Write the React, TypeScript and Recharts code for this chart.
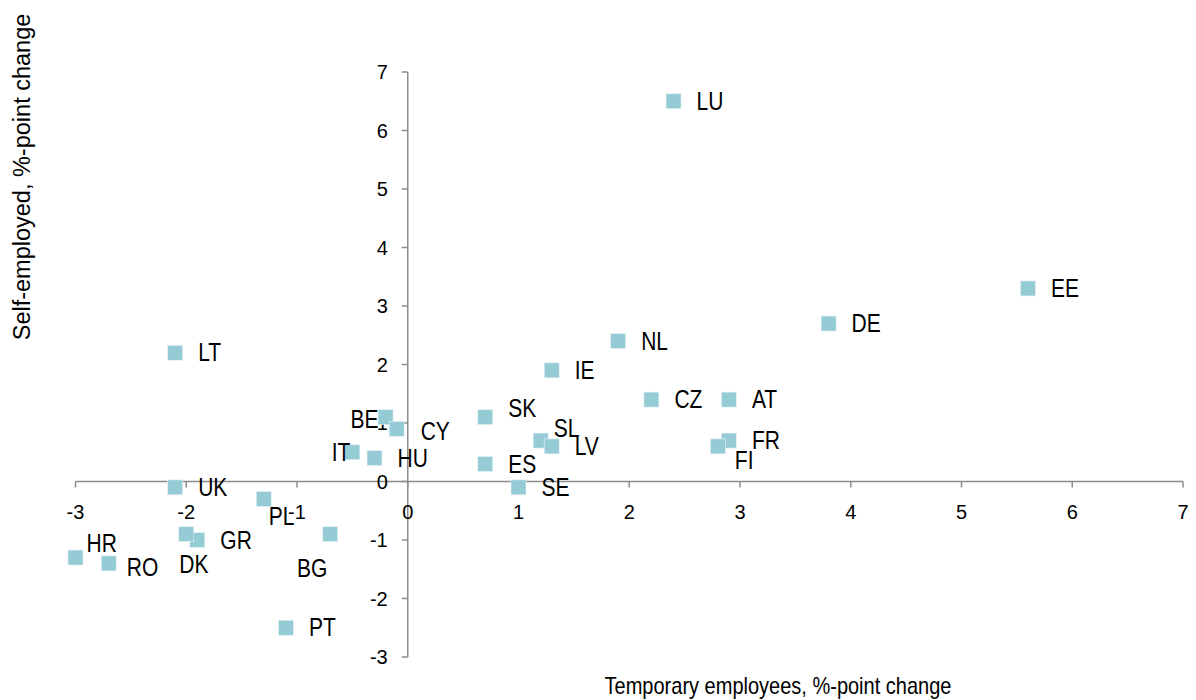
import { ReferenceLine, Scatter, ScatterChart, XAxis, YAxis } from "recharts";

const countries = [
  "LU", "EE", "DE", "NL", "IE", "CZ", "AT", "FR", "FI", "SK", "SL", "LV", "ES", "SE",
  "BE", "CY", "IT", "HU", "LT", "UK", "PL", "BG", "GR", "DK", "HR", "RO", "PT",
];
const temporaryChange = [
  2.4, 5.6, 3.8, 1.9, 1.3, 2.2, 2.9, 2.9, 2.8, 0.7, 1.2, 1.3, 0.7, 1.0,
  -0.2, -0.1, -0.5, -0.3, -2.1, -2.1, -1.3, -0.7, -1.9, -2.0, -3.0, -2.7, -1.1,
];
const selfEmployedChange = [
  6.5, 3.3, 2.7, 2.4, 1.9, 1.4, 1.4, 0.7, 0.6, 1.1, 0.7, 0.6, 0.3, -0.1,
  1.1, 0.9, 0.5, 0.4, 2.2, -0.1, -0.3, -0.9, -1.0, -0.9, -1.3, -1.4, -2.5,
];
const xTicks = [-3, -2, -1, 0, 1, 2, 3, 4, 5, 6, 7];
const yTicks = [-3, -2, -1, 0, 1, 2, 3, 4, 5, 6, 7];

// where each data label sits relative to its marker (default: right of it)
const labelPlacement: Record<string, { dx: number; dy: number; anchor?: string }> = {
  FI: { dx: 17, dy: 14 },
  SK: { dx: 23, dy: -9 },
  SL: { dx: 13, dy: -12 },
  BE: { dx: -7, dy: 2, anchor: "end" },
  CY: { dx: 24, dy: 2 },
  IT: { dx: -2, dy: 0, anchor: "end" },
  PL: { dx: 5, dy: 17 },
  BG: { dx: -18, dy: 34, anchor: "middle" },
  DK: { dx: -7, dy: 30 },
  HR: { dx: 11, dy: -14 },
  RO: { dx: 18, dy: 4 },
};

const points = countries.map((name, i) => ({
  name,
  x: temporaryChange[i],
  y: selfEmployedChange[i],
}));
const xTickPoints = xTicks.map((t) => ({ x: t, y: 0 }));
const yTickPoints = yTicks.map((t) => ({ x: 0, y: t }));

const FONT = "'Liberation Sans', Arial, sans-serif";
const AXIS = "#8c8c8c";
const MARKER = "#95cbd5";

function Marker(props: any) {
  const { cx, cy } = props;
  return <rect x={cx - 7.5} y={cy - 7.5} width={15} height={15} fill={MARKER} stroke="#e8f4f6" strokeWidth={0.6} />;
}

function PointLabel(props: any) {
  const { cx, cy, payload } = props;
  const p = labelPlacement[payload.name] ?? { dx: 23, dy: 0 };
  return (
    <text
      transform={`translate(${cx + p.dx},${cy + p.dy}) scale(1,1.2)`}
      textAnchor={p.anchor ?? "start"}
      dominantBaseline="central"
      fontSize={21}
      fontFamily={FONT}
      fill="#000"
    >
      {payload.name}
    </text>
  );
}

function XTick(props: any) {
  const { cx, cy, payload } = props;
  return (
    <g>
      <line x1={cx} y1={cy} x2={cx} y2={cy + 6} stroke={AXIS} strokeWidth={1.5} />
      <text x={cx} y={cy + 30} textAnchor="middle" dominantBaseline="central" fontSize={20} fontFamily={FONT} fill="#000">
        {payload.x}
      </text>
    </g>
  );
}

function YTick(props: any) {
  const { cx, cy, payload } = props;
  return (
    <g>
      <line x1={cx - 6} y1={cy} x2={cx} y2={cy} stroke={AXIS} strokeWidth={1.5} />
      <text x={cx - 20} y={cy} textAnchor="end" dominantBaseline="central" fontSize={20} fontFamily={FONT} fill="#000">
        {payload.y}
      </text>
    </g>
  );
}

export default function App() {
  return (
    <div style={{ position: "relative", width: 1180, height: 692, fontFamily: FONT }}>
      <ScatterChart width={1180} height={692} margin={{ top: 64, right: 5, bottom: 43, left: 67.5 }}>
        <XAxis type="number" dataKey="x" domain={[-3, 7]} ticks={xTicks} hide />
        <YAxis type="number" dataKey="y" domain={[-3, 7]} ticks={yTicks} hide />
        <ReferenceLine y={0} stroke={AXIS} strokeWidth={1.5} />
        <ReferenceLine x={0} stroke={AXIS} strokeWidth={1.5} />
        <Scatter data={xTickPoints} shape={XTick} isAnimationActive={false} />
        <Scatter data={yTickPoints} shape={YTick} isAnimationActive={false} />
        <Scatter data={points} shape={Marker} isAnimationActive={false} />
        <Scatter data={points} shape={PointLabel} isAnimationActive={false} />
      </ScatterChart>
      <div
        style={{
          position: "absolute",
          left: 14,
          top: 169,
          transform: "translate(-50%, -50%) rotate(-90deg)",
          whiteSpace: "nowrap",
          fontSize: 23.5,
          color: "#000",
        }}
      >
        Self-employed, %-point change
      </div>
      <div
        style={{
          position: "absolute",
          left: 770,
          top: 678,
          transform: "translate(-50%, -50%) scale(1, 1.2)",
          whiteSpace: "nowrap",
          fontSize: 20,
          color: "#000",
        }}
      >
        Temporary employees, %-point change
      </div>
    </div>
  );
}
